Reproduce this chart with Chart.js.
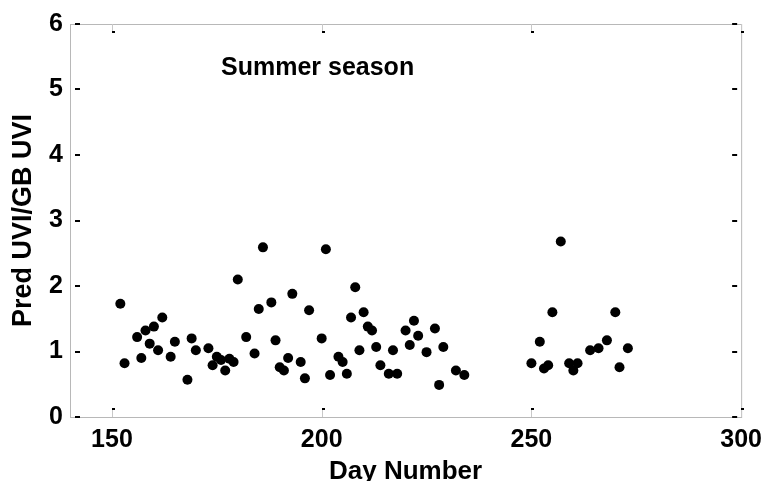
<!DOCTYPE html>
<html>
<head>
<meta charset="utf-8">
<script src="https://cdn.jsdelivr.net/npm/chart.js@4.4.0/dist/chart.umd.min.js"></script>
<style>
  html, body { margin: 0; padding: 0; background: #fff; }
  #wrap { width: 770px; height: 481px; position: relative; }
</style>
</head>
<body>
<div id="wrap"><canvas id="chart"></canvas></div>
<script>
// Day of year for each observation
const days = [
  152, 153, 156, 157, 158, 159, 160, 161, 162, 164, 165, 168, 169, 170,
  173, 174, 175, 176, 177, 178, 179, 180, 182, 184, 185, 186, 188, 189,
  190, 191, 192, 193, 195, 196, 197, 200, 201, 202, 204, 205, 206, 207,
  208, 209, 210, 211, 212, 213, 214, 216, 217, 218, 220, 221, 222, 223,
  225, 227, 228, 229, 232, 234,
  250, 252, 253, 254, 255, 257, 259, 260, 261, 264, 266, 268, 270, 271, 273
];

// Predicted UVI divided by ground-based UVI
const ratios = [
  1.73, 0.82, 1.22, 0.90, 1.32, 1.12, 1.38, 1.02, 1.52, 0.92, 1.15, 0.57, 1.20, 1.02,
  1.05, 0.79, 0.92, 0.87, 0.71, 0.89, 0.84, 2.10, 1.22, 0.97, 1.65, 2.59, 1.75, 1.17,
  0.76, 0.71, 0.90, 1.88, 0.84, 0.59, 1.63, 1.20, 2.56, 0.64, 0.92, 0.84, 0.66, 1.52,
  1.98, 1.02, 1.60, 1.38, 1.32, 1.07, 0.79, 0.66, 1.02, 0.66, 1.32, 1.10, 1.47, 1.24,
  0.99, 1.35, 0.49, 1.07, 0.71, 0.64,
  0.82, 1.15, 0.74, 0.79, 1.60, 2.68, 0.82, 0.71, 0.82, 1.02, 1.05, 1.17, 1.60, 0.76, 1.05
];

const xTicks = [150, 200, 250, 300];
const yTicks = [0, 1, 2, 3, 4, 5, 6];
const seasonLabel = 'Summer season';

const FONT = "'Liberation Sans', Arial, sans-serif";

// Box around the plot with small inward tick marks on all four sides
const framePlugin = {
  id: 'frame',
  beforeDatasetsDraw(chart) {
    const { ctx, chartArea: a, scales } = chart;
    ctx.save();
    ctx.strokeStyle = '#b8b8b8';
    ctx.lineWidth = 1;
    ctx.strokeRect(a.left + 0.5, a.top + 0.5, a.right - a.left, a.bottom - a.top);

    ctx.fillStyle = '#000';
    yTicks.forEach(v => {
      const y = Math.round(scales.y.getPixelForValue(v));
      ctx.fillRect(a.left + 5, y - 1, 5, 2);
      ctx.fillRect(a.right - 9, y - 1, 5, 2);
    });
    xTicks.forEach(v => {
      const x = Math.round(scales.x.getPixelForValue(v));
      ctx.fillStyle = '#c8c8c8';
      ctx.fillRect(x, a.bottom - 8, 1, 8);
      ctx.fillRect(x, a.top, 1, 8);
      ctx.fillStyle = '#000';
      ctx.fillRect(x, a.bottom - 9, 3, 2);
      ctx.fillRect(x, a.top + 7, 3, 2);
    });
    ctx.restore();
  }
};

// Season caption inside the plot
const captionPlugin = {
  id: 'caption',
  afterDatasetsDraw(chart) {
    const { ctx, scales } = chart;
    ctx.save();
    ctx.font = 'bold 25px ' + FONT;
    ctx.fillStyle = '#000';
    ctx.textAlign = 'left';
    ctx.textBaseline = 'alphabetic';
    ctx.fillText(seasonLabel, scales.x.getPixelForValue(176), scales.y.getPixelForValue(5.22));
    ctx.restore();
  }
};

new Chart(document.getElementById('chart'), {
  type: 'scatter',
  data: {
    datasets: [{
      data: days.map((d, i) => ({ x: d, y: ratios[i] })),
      backgroundColor: '#000',
      borderColor: '#000',
      borderWidth: 0,
      pointRadius: 5,
      pointHoverRadius: 5
    }]
  },
  options: {
    responsive: true,
    maintainAspectRatio: false,
    animation: false,
    layout: { padding: { top: 24, right: 26, left: 0, bottom: 0 } },
    plugins: {
      legend: { display: false },
      tooltip: { enabled: false }
    },
    scales: {
      x: {
        type: 'linear',
        min: 140,
        max: 300,
        afterBuildTicks: s => { s.ticks = xTicks.map(v => ({ value: v })); },
        afterFit: s => { s.height = 64; },
        grid: { display: false, drawTicks: false },
        border: { display: false },
        ticks: {
          color: '#000',
          padding: 8,
          font: { family: FONT, size: 25, weight: 'bold' }
        },
        title: {
          display: true,
          text: 'Day Number',
          color: '#000',
          padding: { top: 0, bottom: -6 },
          font: { family: FONT, size: 26, weight: 'bold' }
        }
      },
      y: {
        type: 'linear',
        min: 0,
        max: 6,
        afterBuildTicks: s => { s.ticks = yTicks.map(v => ({ value: v })); },
        afterFit: s => { s.width = 70; },
        grid: { display: false, drawTicks: false },
        border: { display: false },
        ticks: {
          color: '#000',
          padding: 7,
          font: { family: FONT, size: 25, weight: 'bold' }
        },
        title: {
          display: true,
          text: 'Pred UVI/GB UVI',
          color: '#000',
          padding: { top: 7, bottom: 0 },
          font: { family: FONT, size: 27, weight: 'bold' }
        }
      }
    }
  },
  plugins: [framePlugin, captionPlugin]
});
</script>
</body>
</html>
